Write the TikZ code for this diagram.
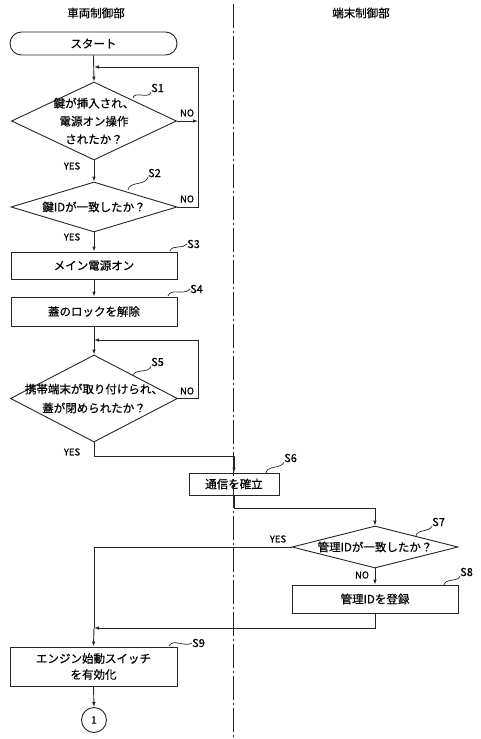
\documentclass[tikz,border=0pt]{standalone}
\usepackage{fontspec}
\setmainfont{Noto Sans CJK JP}[BoldFont={Noto Sans CJK JP}, BoldFeatures={FakeBold=0.5}]
\usetikzlibrary{shapes.geometric,arrows.meta}
\begin{document}
\begin{tikzpicture}[x=1pt,y=-1pt,
 line/.style={line width=0.9pt, draw=black!85},
 arr/.style={line, -{Latex[length=5pt,width=3.6pt]}},
 box/.style={draw=black!85, line width=0.9pt, rectangle, inner sep=0pt, font=\fontsize{11.5}{16}\selectfont\bfseries, align=center},
 dia/.style={draw=black!85, line width=0.9pt, diamond, inner sep=0pt},
 txt/.style={font=\fontsize{11.5}{18}\selectfont\bfseries, align=center, inner sep=0pt},
 lab/.style={font=\fontsize{11}{12}\selectfont\bfseries, inner sep=0pt},
 yn/.style={font=\fontsize{9.5}{10}\selectfont\bfseries, inner sep=0pt},
 head/.style={font=\fontsize{11.5}{12}\selectfont\bfseries, inner sep=0pt},
 squig/.style={line width=0.7pt, draw=black!85},
]
\useasboundingbox (0,0) rectangle (480,739);

% headers and divider
\node[head] (h1) at (96,13) {車両制御部};
\node[head] (h2) at (361,13) {端末制御部};
\draw[line width=0.9pt, draw=black!85, dash pattern=on 24pt off 3pt on 2pt off 3pt] (233,4) -- (233,739);

% nodes
\node[box, rounded corners=11.5pt, minimum width=167pt, minimum height=23pt] (start) at (93.5,43.5) {スタート};
\node[dia, minimum width=165pt, minimum height=78pt] (s1) at (94,121) {};
\node[txt] (t1) at (s1) {鍵が挿入され、\\電源オン操作\\されたか？};
\node[dia, minimum width=166pt, minimum height=50pt] (s2) at (94,207) {};
\node[txt] (t2) at (s2) {鍵IDが一致したか？};
\node[box, minimum width=166pt, minimum height=27pt] (s3) at (94,265.5) {メイン電源オン};
\node[box, minimum width=166pt, minimum height=29pt] (s4) at (94,311.5) {蓋のロックを解除};
\node[dia, minimum width=167pt, minimum height=87pt] (s5) at (94,398.5) {};
\node[txt, font=\fontsize{11.5}{19}\selectfont\bfseries] (t5) at (s5) {携帯端末が取り付けられ、\\蓋が閉められたか？};
\node[box, minimum width=90pt, minimum height=22pt] (s6) at (234,484) {通信を確立};
\node[dia, minimum width=166pt, minimum height=42pt] (s7) at (375,547) {};
\node[txt] (t7) at (s7) {管理IDが一致したか？};
\node[box, minimum width=166pt, minimum height=28pt] (s8) at (375,599) {管理IDを登録};
\node[box, minimum width=167pt, minimum height=39pt] (s9) at (93.5,666.5) {エンジン始動スイッチ\\を有効化};
\node[draw=black!85, line width=0.9pt, circle, minimum size=25pt, inner sep=0pt, font=\fontsize{10}{12}\selectfont\bfseries] (c1) at (94,720) {1};

% junctions
\coordinate (j1) at (94,67);
\coordinate (k1) at (198,67);
\coordinate (j5) at (94,340);
\coordinate (k5) at (198,340);
\coordinate (j9) at (94,628);

% connectors
\draw[arr] (start.south) -- (s1.north);
\draw[arr] (s1.east) -- (s1.east -| k1);
\draw[line] (s2.east) -| (k1);
\draw[arr] (k1) -- (j1);
\draw[arr] (s1.south) -- (s2.north);
\draw[arr] (s2.south) -- (s3.north);
\draw[arr] (s3.south) -- (s4.north);
\draw[arr] (s4.south) -- (s5.north);
\draw[line] (s5.east) -| (k5);
\draw[arr] (k5) -- (j5);
\draw[arr] (s5.south) -- ++(0,14) -| (s6.north);
\draw[arr] (s6.south) -- ++(0,13) -| (s7.north);
\draw[arr] (s7.south) -- (s8.north);
\draw[line] (s7.west) -| (j9);
\draw[arr] (s8.south) |- (j9);
\draw[arr] (j9) -- (s9.north);
\draw[arr] (s9.south) -- (c1.north);

% yes/no labels
\node[yn] (y1) at (72,166) {YES};
\node[yn] (n1) at (187,113) {NO};
\node[yn] (n2) at (187,199) {NO};
\node[yn] (y2) at (72,237) {YES};
\node[yn] (n5) at (187,391) {NO};
\node[yn] (y5) at (72,452) {YES};
\node[yn] (y7) at (278,539) {YES};
\node[yn] (n7) at (362,575) {NO};

% step labels with squiggles
\node[lab, anchor=west] (l1) at (151,88) {S1};
\draw[squig] (133,98) to[out=80,in=250] (l1.south west);
\node[lab, anchor=west] (l2) at (148,173) {S2};
\draw[squig] (128,190) to[out=80,in=250] (l2.south west);
\node[lab, anchor=west] (l3) at (187,244) {S3};
\draw[squig] (170,251) to[out=70,in=230] (l3.west);
\node[lab, anchor=west] (l4) at (190,289) {S4};
\draw[squig] (168,296) to[out=70,in=230] (l4.west);
\node[lab, anchor=west] (l5) at (151,362) {S5};
\draw[squig] (133,376) to[out=80,in=250] (l5.south west);
\node[lab, anchor=west] (l6) at (284,458) {S6};
\draw[squig] (266,473) to[out=80,in=240] (l6.south west);
\node[lab, anchor=west] (l7) at (432,522) {S7};
\draw[squig] (416,536) to[out=80,in=240] (l7.south west);
\node[lab, anchor=west] (l8) at (460,572) {S8};
\draw[squig] (444,585) to[out=80,in=240] (l8.south west);
\node[lab, anchor=west] (l9) at (192,643) {S9};
\draw[squig] (169,646) to[out=60,in=210] (l9.west);
\end{tikzpicture}
\end{document}
